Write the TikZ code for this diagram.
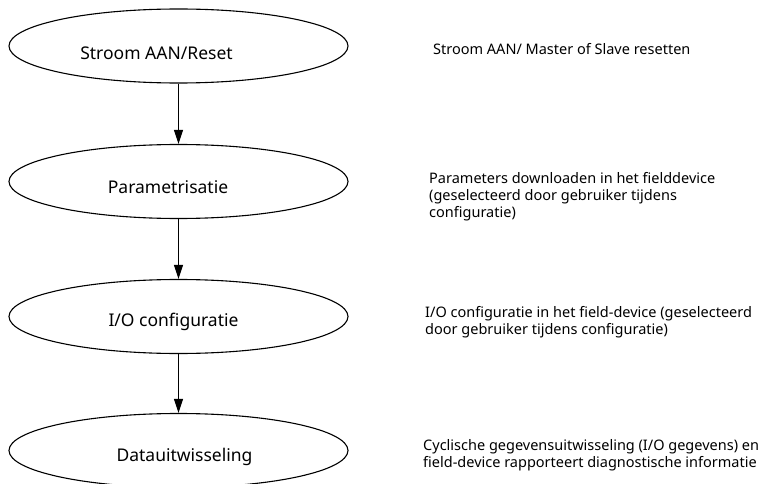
\documentclass[tikz,border=0pt]{standalone}
\usepackage{fontspec}
\setmainfont{Noto Sans}
\usetikzlibrary{shapes.geometric, arrows.meta, positioning}

\begin{document}
\begin{tikzpicture}[x=1pt, y=-1pt,
    fase/.style={draw, ellipse, line width=1.1pt, minimum width=339pt, minimum height=74pt, inner sep=0pt},
    fasetekst/.style={inner sep=0pt, font=\fontsize{17.5}{20}\selectfont},
    uitleg/.style={anchor=base west, align=left, inner sep=0pt, font=\fontsize{14.5}{17}\selectfont},
    pijl/.style={line width=1.1pt, -{Triangle[length=14pt, width=9pt]}}]
  \useasboundingbox (0,0) rectangle (763,484);

  % fasen
  \foreach \naam/\y in {stroom/46, param/181.5, io/316.5, data/450.5}
    \node[fase] (\naam) at (178.5,\y) {};

  \node[fasetekst] (stroomtekst) at (156.5,53.5) {Stroom AAN/Reset};
  \node[fasetekst] (paramtekst) at (168,187.5) {Parametrisatie};
  \node[fasetekst] (iotekst) at (173.5,321.5) {I/O configuratie};
  \node[fasetekst] (datatekst) at (184.5,456.5) {Datauitwisseling};

  \draw[pijl] (stroom) -- (param);
  \draw[pijl] (param) -- (io);
  \draw[pijl] (io) -- (data);

  % uitleg rechts (base = laatste regel)
  \node[uitleg] (stroomuitleg) at (433,54.5) {Stroom AAN/ Master of Slave resetten};
  \node[uitleg] (paramuitleg) at (429,217) {Parameters downloaden in het fielddevice\\(geselecteerd door gebruiker tijdens\\configuratie)};
  \node[uitleg] (iouitleg) at (425,334.5) {I/O configuratie in het field-device (geselecteerd\\door gebruiker tijdens configuratie)};
  \node[uitleg] (datauitleg) at (423,467.5) {Cyclische gegevensuitwisseling (I/O gegevens) en\\field-device rapporteert diagnostische informatie};
\end{tikzpicture}
\end{document}
